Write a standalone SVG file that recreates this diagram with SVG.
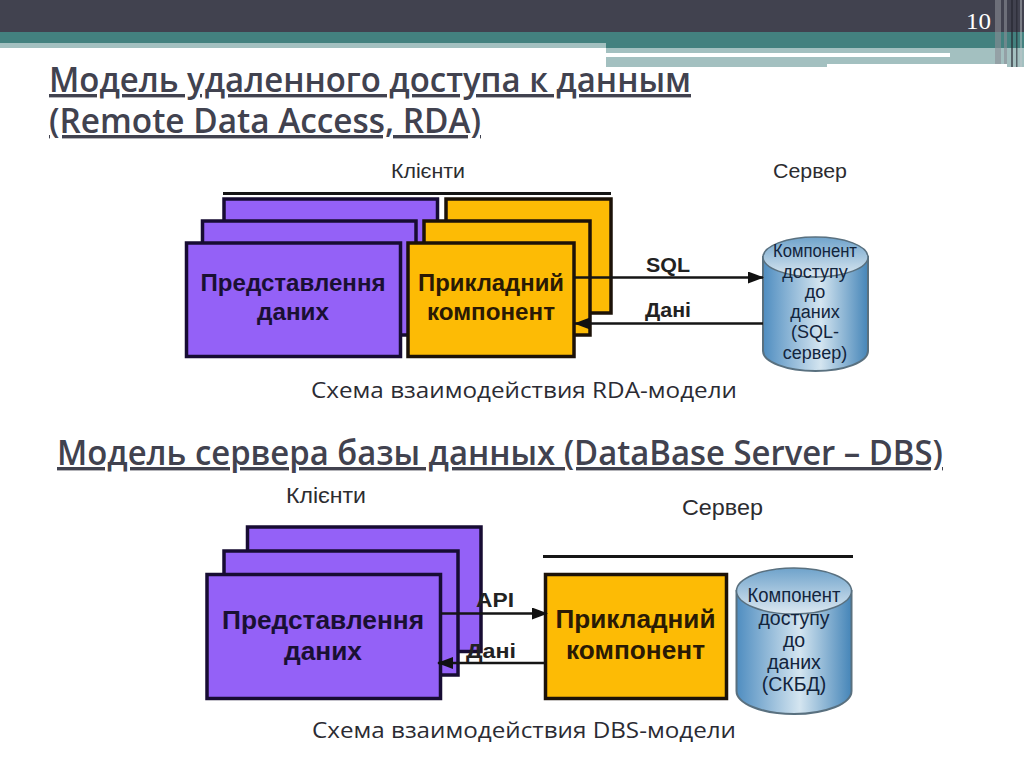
<svg xmlns="http://www.w3.org/2000/svg" width="1024" height="767" viewBox="0 0 1024 767">
<style>
.t{font-family:"Open Sans","Noto Sans","Liberation Sans",sans-serif;fill:#41424f;text-decoration:underline;font-weight:600;font-size:34px}
.cap{font-family:"Open Sans","Noto Sans","Liberation Sans",sans-serif;fill:#2b2b33;font-size:22.500px}
.lab{font-family:"Liberation Sans",Arial,sans-serif;fill:#2c2c30;font-size:20.500px}
.b{font-family:"Liberation Sans",Arial,sans-serif;font-weight:700;fill:#1a1033;font-size:23.500px;text-anchor:middle}
.bo{fill:#2a1a05}
.x{font-size:25.500px}
.s{fill:#222;font-size:21px}
.c{font-family:"Liberation Sans",Arial,sans-serif;fill:#12243c;font-size:18px;text-anchor:middle}
.d{font-size:19.500px}
.p{fill:#9461f7;stroke:#170c33;stroke-width:3.500}
.o{fill:#fdbb05;stroke:#1c1208;stroke-width:3.500}
.l{stroke:#151515;stroke-width:3;fill:none}
.cn{stroke:#151515;stroke-width:2.500;fill:none;marker-end:url(#ah)}
.cy{stroke:#59707f;stroke-width:2;fill:url(#body)}
.top{stroke:#59707f;stroke-width:1.500;fill:url(#top)}
</style>
<defs>
<marker id="ah" markerUnits="userSpaceOnUse" markerWidth="16" markerHeight="12" refX="15" refY="6" orient="auto"><path d="M0 0L16 6L0 12Z" fill="#111"/></marker>
<linearGradient id="body" x1="0" x2="1" y1="0" y2="0"><stop offset="0" stop-color="#4f8dc0"/><stop offset=".55" stop-color="#d4e5f0"/><stop offset="1" stop-color="#4585b8"/></linearGradient>
<linearGradient id="top" x1="0" x2="0" y1="0" y2="1"><stop offset="0" stop-color="#6fa3cb"/><stop offset="1" stop-color="#dbe8f1"/></linearGradient>
</defs>
<rect width="1024" height="767" fill="#fff"/>
<g id="header">
<rect width="1024" height="32" fill="#41424f"/>
<rect y="32" width="1024" height="16" fill="#43817f"/>
<rect y="43" width="606" height="5" fill="#a3c0c0"/>
<rect x="606" y="48" width="418" height="5" fill="#a3c0c0"/>
<rect x="606" y="53" width="344" height="4" fill="#fff"/>
<rect x="606" y="57" width="221" height="10" fill="#a3c0c0"/>
<rect x="827" y="57" width="123" height="7" fill="#a3c0c0"/>
<rect x="950" y="53" width="74" height="11" fill="#a3c0c0"/>
<rect x="1007" y="64" width="17" height="3" fill="#a3c0c0"/>
<g fill="#8b8d96" opacity=".6"><rect x="995" y="0" width="6" height="64"/><rect x="1004" y="0" width="3" height="64"/></g>
<g fill="#24252e" opacity=".6"><rect x="1011" y="0" width="2" height="67"/><rect x="1016" y="0" width="1.500" height="67"/></g>
<g fill="#c4c8cc" opacity=".45"><rect x="1020" y="0" width="2" height="67"/></g>
<text x="966" y="29" font-family="'Liberation Serif',serif" font-size="24" fill="#fff" textLength="25" lengthAdjust="spacingAndGlyphs">10</text>
</g>
<g id="titles">
<text class="t" x="49" y="92" textLength="642" lengthAdjust="spacingAndGlyphs">Модель удаленного доступа к данным</text>
<text class="t" x="49" y="133" textLength="432" lengthAdjust="spacingAndGlyphs">(Remote Data Access, RDA)</text>
<text class="t" x="57" y="465" textLength="886" lengthAdjust="spacingAndGlyphs">Модель сервера базы данных (DataBase Server – DBS)</text>
<text class="cap" x="311" y="398" textLength="426" lengthAdjust="spacingAndGlyphs">Схема взаимодействия RDA-модели</text>
<text class="cap" x="312" y="738" textLength="424" lengthAdjust="spacingAndGlyphs">Схема взаимодействия DBS-модели</text>
</g>
<g id="rda-clients-label">
<text class="lab" x="391" y="178" textLength="74" lengthAdjust="spacingAndGlyphs">Клієнти</text>
<line class="l" x1="223" y1="193.500" x2="611" y2="193.500"/>
</g>
<g id="rda-server-label"><text class="lab" x="773" y="178" textLength="74" lengthAdjust="spacingAndGlyphs">Сервер</text></g>
<g id="rda-presentation">
<rect class="p" x="224" y="199" width="213.500" height="114"/>
<rect class="p" x="202.500" y="221" width="213.500" height="114"/>
<rect class="p" x="186.500" y="243" width="214" height="113.500"/>
<text class="b" x="293" y="291" textLength="185" lengthAdjust="spacingAndGlyphs">Представлення</text>
<text class="b" x="293" y="320" textLength="72" lengthAdjust="spacingAndGlyphs">даних</text>
</g>
<g id="rda-application">
<rect class="o" x="446" y="199" width="165" height="114"/>
<rect class="o" x="424" y="221" width="166" height="114"/>
<rect class="o" x="408" y="243" width="166" height="113.500"/>
<text class="b bo" x="491" y="291" textLength="146" lengthAdjust="spacingAndGlyphs">Прикладний</text>
<text class="b bo" x="491" y="320" textLength="128" lengthAdjust="spacingAndGlyphs">компонент</text>
</g>
<g id="rda-db">
<path class="cy" d="M763 257V351A52.500 20 0 0 0 868 351V257Z"/>
<ellipse class="top" cx="815.500" cy="257" rx="52.500" ry="20"/>
<text class="c" x="815" y="257" textLength="84" lengthAdjust="spacingAndGlyphs">Компонент</text>
<text class="c" x="815" y="278">доступу</text>
<text class="c" x="815" y="298">до</text>
<text class="c" x="815" y="318">даних</text>
<text class="c" x="815" y="338">(SQL-</text>
<text class="c" x="815" y="359">сервер)</text>
</g>
<g id="dbs-clients-label"><text class="lab" x="286" y="503" style="font-size:22px" textLength="80" lengthAdjust="spacingAndGlyphs">Клієнти</text></g>
<g id="dbs-server-label">
<text class="lab" x="682" y="515" style="font-size:22px" textLength="81" lengthAdjust="spacingAndGlyphs">Сервер</text>
<line class="l" x1="543" y1="556.500" x2="853" y2="556.500"/>
</g>
<g id="dbs-presentation">
<rect class="p" x="247.500" y="527" width="233.500" height="124.500"/>
<rect class="p" x="224" y="551" width="234" height="124"/>
<rect class="p" x="207" y="574.500" width="233.500" height="124"/>
<text class="b x" x="323" y="629" textLength="202" lengthAdjust="spacingAndGlyphs">Представлення</text>
<text class="b x" x="323" y="660" textLength="78" lengthAdjust="spacingAndGlyphs">даних</text>
</g>
<g id="dbs-application">
<rect class="o" x="545.500" y="574.500" width="181" height="124"/>
<text class="b bo x" x="635.500" y="628" textLength="160" lengthAdjust="spacingAndGlyphs">Прикладний</text>
<text class="b bo x" x="635.500" y="659" textLength="139" lengthAdjust="spacingAndGlyphs">компонент</text>
</g>
<g id="dbs-db">
<path class="cy" d="M736.500 591V691A57.500 23 0 0 0 851.500 691V591Z"/>
<ellipse class="top" cx="794" cy="591" rx="57.500" ry="23"/>
<text class="c d" x="794" y="602" textLength="93" lengthAdjust="spacingAndGlyphs">Компонент</text>
<text class="c d" x="794" y="625">доступу</text>
<text class="c d" x="794" y="647">до</text>
<text class="c d" x="794" y="669">даних</text>
<text class="c d" x="794" y="691">(СКБД)</text>
</g>
<g id="connectors">
<line class="cn" x1="574" y1="277.500" x2="763" y2="277.500"/>
<line class="cn" x1="763" y1="323.500" x2="575" y2="323.500"/>
<line class="cn" x1="441" y1="613.500" x2="547" y2="613.500"/>
<line class="cn" x1="545" y1="663" x2="438" y2="663"/>
</g>
<g id="connector-labels">
<text class="b s" x="668" y="272" textLength="44" lengthAdjust="spacingAndGlyphs">SQL</text>
<text class="b s" x="668" y="317" textLength="46" lengthAdjust="spacingAndGlyphs">Дані</text>
<text class="b s" x="495" y="607" textLength="38" lengthAdjust="spacingAndGlyphs">API</text>
<text class="b s" x="491" y="658" textLength="50" lengthAdjust="spacingAndGlyphs">Дані</text>
</g>
</svg>
